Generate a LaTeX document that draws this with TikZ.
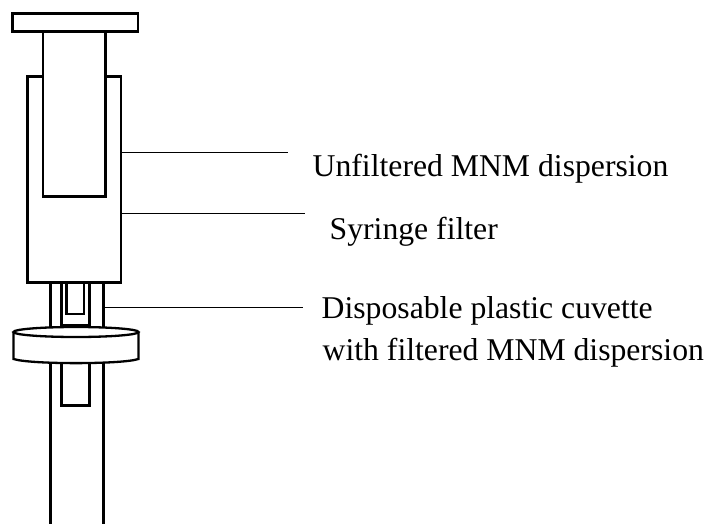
\documentclass[tikz,border=0pt]{standalone}
\usepackage{fontspec}
\setmainfont{Liberation Serif}
\tikzset{
  part/.style={draw=black,line width=2.3pt,fill=white,line join=miter},
  wall/.style={draw=black,line width=2.3pt},
  leader/.style={draw=black,line width=1pt},
  label/.style={inner sep=0pt,anchor=base west,font=\fontsize{31.7pt}{36pt}\selectfont,text=black}
}
\begin{document}
\begin{tikzpicture}[x=1pt,y=-1pt]
\useasboundingbox (0,0) rectangle (710,524);
% lower tube
\draw[wall] (50.5,362) -- (50.5,524);
\draw[wall] (103.5,362) -- (103.5,524);
\draw[wall] (61.5,362) -- (61.5,405.5) -- (89.5,405.5) -- (89.5,362);
% barrel and plunger
\draw[part] (27.5,76.5) rectangle (121,282.5);
\draw[part] (43,31) rectangle (105.5,196.5);
\draw[part] (12.5,13.5) rectangle (138,31.5);
% cuvette
\draw[wall] (50.5,283) -- (50.5,327);
\draw[wall] (103.5,283) -- (103.5,327);
\draw[wall] (61.5,283) -- (61.5,325.5) -- (89.5,325.5) -- (89.5,283);
\draw[wall] (66.5,283) -- (66.5,314) -- (84,314) -- (84,283);
% filter disc
\draw[part] (13.5,332) -- (13.5,359) .. controls (30,364.5) and (122,364.5) .. (138.5,359) -- (138.5,332);
\draw[part] (76,332) ellipse [x radius=62.5,y radius=5];
% labels
\node[label] (unfiltered) at (312.5,176.5) {Unfiltered MNM dispersion};
\node[label] (syringe) at (329.5,240) {Syringe filter};
\node[label] (cuvette) at (321.5,318) {Disposable plastic cuvette};
\node[label] (filtered) at (322.5,360) {with filtered MNM dispersion};
% leaders
\coordinate (a1) at (121,152.5);
\coordinate (a2) at (288,152.5);
\coordinate (b1) at (121,213.5);
\coordinate (b2) at (305,213.5);
\coordinate (c1) at (104,307);
\coordinate (c2) at (303,307);
\draw[leader] (a1) -- (a2);
\draw[leader] (b1) -- (b2);
\draw[leader] (c1) -- (c2);
\end{tikzpicture}
\end{document}
